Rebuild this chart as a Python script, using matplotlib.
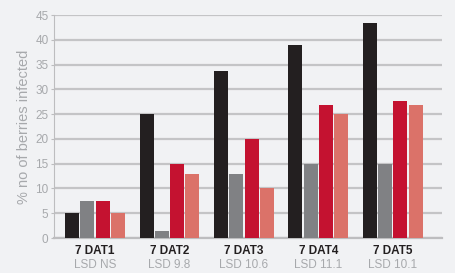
import matplotlib
matplotlib.use("Agg")
from matplotlib import pyplot as plt
from matplotlib import transforms
import numpy as np

plt.rcParams['font.family'] = ['Liberation Sans', 'DejaVu Sans']

groups = ['7 DAT1', '7 DAT2', '7 DAT3', '7 DAT4', '7 DAT5']
lsd = ['LSD NS', 'LSD 9.8', 'LSD 10.6', 'LSD 11.1', 'LSD 10.1']
s1 = [5, 25, 33.8, 39, 43.4]
s2 = [7.5, 1.5, 13, 15, 15]
s3 = [7.5, 15, 20, 26.8, 27.6]
s4 = [5, 13, 10, 25, 26.8]
colors = ['#231f20', '#808184', '#c41230', '#db7269']

bg = '#f1f2f4'
fig = plt.figure(figsize=(4.55, 2.73), dpi=100, facecolor=bg)
ax = fig.add_axes([0.119, 0.128, 0.852, 0.817], facecolor=bg)

x = np.arange(len(groups))
w = 0.188
step = 0.205
for i, (vals, c) in enumerate(zip([s1, s2, s3, s4], colors)):
    ax.bar(x + (i - 1.5) * step, vals, width=w, color=c, zorder=3)

ax.set_ylim(0, 45)
ax.set_xlim(-0.55, 4.66)
ax.set_yticks(np.arange(0, 46, 5))
ax.yaxis.grid(True, color='#c4c4c6', linewidth=1.6, zorder=0)
ax.set_xticks([])
for sp in ['top', 'right']:
    ax.spines[sp].set_visible(False)
ax.spines['left'].set_color('#bdbdbf')
ax.spines['bottom'].set_color('#bdbdbf')
ax.spines['bottom'].set_linewidth(1.6)
ax.tick_params(axis='y', colors='#bdbdbf', labelcolor='#a7a9ac', labelsize=8.5,
               length=2, pad=2)
ax.set_ylabel('% no of berries infected', color='#a7a9ac', fontsize=10.5, labelpad=3)

tr = transforms.blended_transform_factory(ax.transData, ax.transAxes)
for xi, g, l in zip(x, groups, lsd):
    ax.text(xi, -0.03, g, transform=tr, ha='center', va='top', fontsize=8.5,
            fontweight='bold', color='#231f20')
    ax.text(xi, -0.095, l, transform=tr, ha='center', va='top', fontsize=8.5,
            color='#a7a9ac')

fig.savefig('out.png', dpi=100, facecolor=bg)
